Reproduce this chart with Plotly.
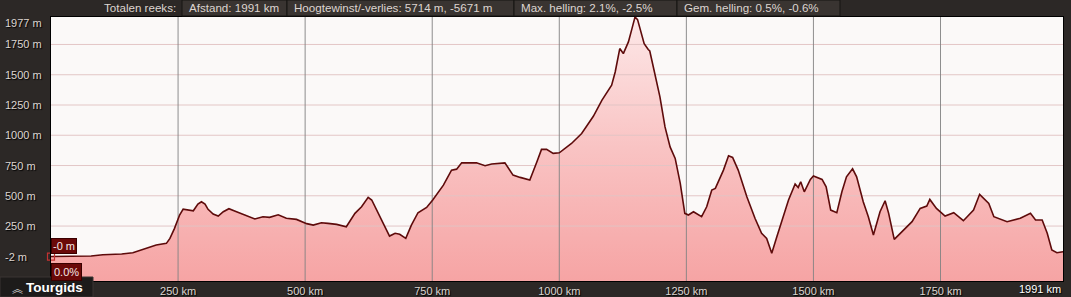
import plotly.graph_objects as go

# ---------------- data ----------------
distance_km = [0, 79, 102, 139, 161, 188, 207, 227, 234, 243, 253, 260, 270, 280, 289, 296, 303, 309,
               319, 329, 339, 350, 365, 385, 401, 417, 430, 447, 463, 483, 490, 503, 516, 532, 545,
               562, 581, 598, 611, 624, 631, 647, 657, 666, 677, 686, 698, 709, 722, 739, 751, 772,
               788, 798, 808, 837, 854, 867, 893, 909, 923, 942, 956, 965, 975, 988, 1000, 1024,
               1044, 1067, 1084, 1103, 1110, 1119, 1126, 1136, 1143, 1149, 1154, 1159, 1167, 1175,
               1178, 1185, 1198, 1208, 1218, 1228, 1238, 1247, 1254, 1264, 1280, 1290, 1300, 1307,
               1323, 1333, 1341, 1352, 1369, 1385, 1398, 1408, 1418, 1428, 1441, 1451, 1464, 1470,
               1475, 1482, 1494, 1500, 1517, 1525, 1534, 1546, 1556, 1565, 1577, 1585, 1598, 1608,
               1618, 1631, 1641, 1648, 1659, 1677, 1694, 1710, 1723, 1729, 1742, 1759, 1776, 1795,
               1815, 1827, 1845, 1855, 1881, 1907, 1927, 1937, 1950, 1960, 1969, 1979, 1991]
elevation_m = [-2, 2, 13, 19, 30, 66, 93, 107, 148, 231, 341, 390, 382, 376, 432, 451, 432, 388,
               349, 333, 368, 393, 368, 333, 308, 327, 322, 343, 314, 305, 294, 270, 258, 277, 272,
               264, 244, 355, 409, 487, 465, 327, 231, 167, 190, 182, 148, 258, 360, 404, 465, 588,
               712, 720, 772, 772, 748, 762, 772, 671, 652, 630, 781, 883, 883, 850, 855, 932,
               1015, 1157, 1290, 1413, 1523, 1716, 1675, 1771, 1881, 1977, 1955, 1881, 1757, 1708,
               1696, 1564, 1317, 1069, 904, 809, 602, 355, 341, 368, 327, 409, 547, 561,
               712, 830, 817, 712, 492, 314, 190, 148, 25, 162, 327, 465, 597, 569,
               616, 533, 635, 663, 635, 574, 382, 360, 533, 657, 723, 657, 451, 327,
               176, 368, 459, 355, 140, 217, 286, 396, 415, 470, 396, 333, 360, 294,
               382, 512, 437, 327, 286, 314, 355, 300, 300, 190, 52, 30, 38]

x_ticks = [250, 500, 750, 1000, 1250, 1500, 1750]
x_tick_labels = ["250 km", "500 km", "750 km", "1000 km", "1250 km", "1500 km", "1750 km"]
y_grid = [250, 500, 750, 1000, 1250, 1500, 1750]
y_label_vals = [1977, 1750, 1500, 1250, 1000, 750, 500, 250, -2]
y_label_text = ["1977 m", "1750 m", "1500 m", "1250 m", "1000 m", "750 m", "500 m", "250 m", "-2 m"]
header_title = "Totalen reeks:"
header_items = ["Afstand: 1991 km", "Hoogtewinst/-verlies: 5714 m, -5671 m",
                "Max. helling: 2.1%, -2.5%", "Gem. helling: 0.5%, -0.6%"]
total_km = 1991
max_m = 1977
min_axis_m = -204

# ---------------- layout helpers ----------------
W, H = 1071, 297
L, R, T, B = 51, 1063, 17, 281
def px(x):
    return (x - L) / (R - L)
def py(y):
    return (B - y) / (B - T)

BG = "#2c2826"
FONT = "Liberation Sans, Arial, sans-serif"
LABEL_COLOR = "#ddd5d0"

fig = go.Figure()

# baseline for the fill
fig.add_trace(go.Scatter(x=[0, total_km], y=[min_axis_m, min_axis_m], mode="lines",
                         line=dict(width=0, color="rgba(0,0,0,0)"), hoverinfo="skip",
                         showlegend=False))
# filled area with vertical gradient
fig.add_trace(go.Scatter(x=distance_km, y=elevation_m, mode="lines", fill="tonexty",
                         line=dict(width=0, color="rgba(0,0,0,0)"),
                         fillgradient=dict(type="vertical", start=min_axis_m, stop=max_m,
                                           colorscale=[[0, "#f6a4a4"], [0.5, "#f9c3c3"],
                                                       [1, "#fde8e8"]]),
                         hoverinfo="skip", showlegend=False))
# grid lines (drawn over the fill, under the profile line)
hx, hy = [], []
for v in y_grid:
    hx += [0, total_km, None]
    hy += [v, v, None]
fig.add_trace(go.Scatter(x=hx, y=hy, mode="lines", line=dict(color="rgba(226,196,196,0.95)", width=1),
                         hoverinfo="skip", showlegend=False))
vx, vy = [], []
for v in x_ticks:
    vx += [v, v, None]
    vy += [min_axis_m, max_m, None]
fig.add_trace(go.Scatter(x=vx, y=vy, mode="lines", line=dict(color="rgba(130,130,130,0.9)", width=1),
                         hoverinfo="skip", showlegend=False))
# profile line
fig.add_trace(go.Scatter(x=distance_km, y=elevation_m, mode="lines",
                         line=dict(color="#5e0b0b", width=1.6), showlegend=False))
# start marker
fig.add_trace(go.Scatter(x=distance_km[:1], y=elevation_m[:1], mode="markers",
                         marker=dict(symbol="square-open", size=7, color="#c43232",
                                     line=dict(width=1.2)),
                         showlegend=False, cliponaxis=False))

shapes = []
annotations = []

# header boxes
box_edges = [182, 287, 514, 677, 840]
for i, txt in enumerate(header_items):
    x0, x1 = box_edges[i], box_edges[i + 1]
    shapes.append(dict(type="rect", xref="paper", yref="paper", x0=px(x0), x1=px(x1),
                       y0=py(16), y1=py(0), fillcolor="#393431",
                       line=dict(color="#161413", width=1), layer="above"))
    annotations.append(dict(xref="paper", yref="paper", x=px(x0 + 5), y=py(8), text=txt,
                            showarrow=False, xanchor="left", yanchor="middle",
                            font=dict(family=FONT, size=11.6, color=LABEL_COLOR)))
annotations.append(dict(xref="paper", yref="paper", x=px(178), y=py(8), text=header_title,
                        showarrow=False, xanchor="right", yanchor="middle",
                        font=dict(family=FONT, size=11.6, color=LABEL_COLOR)))

# y labels (left aligned)
for v, t in zip(y_label_vals, y_label_text):
    ypix = B - (v - min_axis_m) / (max_m - min_axis_m) * (B - T)
    ypix = max(ypix, 23)
    annotations.append(dict(xref="paper", yref="paper", x=px(3), y=py(ypix), text=t,
                            showarrow=False, xanchor="left", yanchor="middle",
                            font=dict(family=FONT, size=11, color=LABEL_COLOR,
                                      shadow="1px 1px 1px #000")))

# last x label (right aligned to the plot edge)
annotations.append(dict(xref="paper", yref="paper", x=1, y=py(289), text=f"{total_km} km",
                        showarrow=False, xanchor="right", yanchor="middle",
                        font=dict(family=FONT, size=11, color="#ffffff",
                                  shadow="1px 1px 1px #000")))

# badges at start
annotations.append(dict(xref="paper", yref="paper", x=px(51), y=py(245.5), text="-0 m",
                        showarrow=False, xanchor="left", yanchor="middle",
                        bgcolor="#6a0909", bordercolor="#3a0000", borderwidth=1, borderpad=1,
                        font=dict(family=FONT, size=11, color="#f3e6e6")))
annotations.append(dict(xref="paper", yref="paper", x=px(51), y=py(271.5), text="0.0%",
                        showarrow=False, xanchor="left", yanchor="middle",
                        bgcolor="#6a0909", bordercolor="#3a0000", borderwidth=1, borderpad=2,
                        font=dict(family=FONT, size=11, color="#f3e6e6")))

# Tourgids tab
shapes.append(dict(type="rect", xref="paper", yref="paper", x0=px(0), x1=px(93),
                   y0=py(297), y1=py(277), fillcolor="#1d1b1a",
                   line=dict(color="#3a3532", width=1), layer="above"))
annotations.append(dict(xref="paper", yref="paper", x=px(10), y=py(287.5), text="︽",
                        showarrow=False, xanchor="left", yanchor="middle",
                        font=dict(family="Noto Sans CJK SC", size=11, color="#cfcfcf")))
annotations.append(dict(xref="paper", yref="paper", x=px(24), y=py(287), text="<b>Tourgids</b>",
                        showarrow=False, xanchor="left", yanchor="middle",
                        font=dict(family=FONT, size=13.5, color="#ffffff")))

fig.update_layout(
    template="none",
    width=W, height=H,
    margin=dict(l=L, r=W - R, t=T, b=H - B, pad=0, autoexpand=False),
    paper_bgcolor=BG, plot_bgcolor="#fbf9f8",
    showlegend=False,
    shapes=shapes, annotations=annotations,
    xaxis=dict(range=[0, total_km], showgrid=False, zeroline=False, automargin=False,
               tickvals=x_ticks, ticktext=x_tick_labels, ticks="", ticklen=0,
               tickfont=dict(family=FONT, size=11, color=LABEL_COLOR, shadow="1px 1px 1px #000"),
               showline=True, linecolor="#000000", linewidth=1, mirror=True, fixedrange=True),
    yaxis=dict(range=[min_axis_m, max_m], showgrid=False, zeroline=False, showticklabels=False,
               automargin=False,
               ticks="", showline=True, linecolor="#000000", linewidth=1, mirror=True,
               fixedrange=True),
)

fig.write_html("out.html")
